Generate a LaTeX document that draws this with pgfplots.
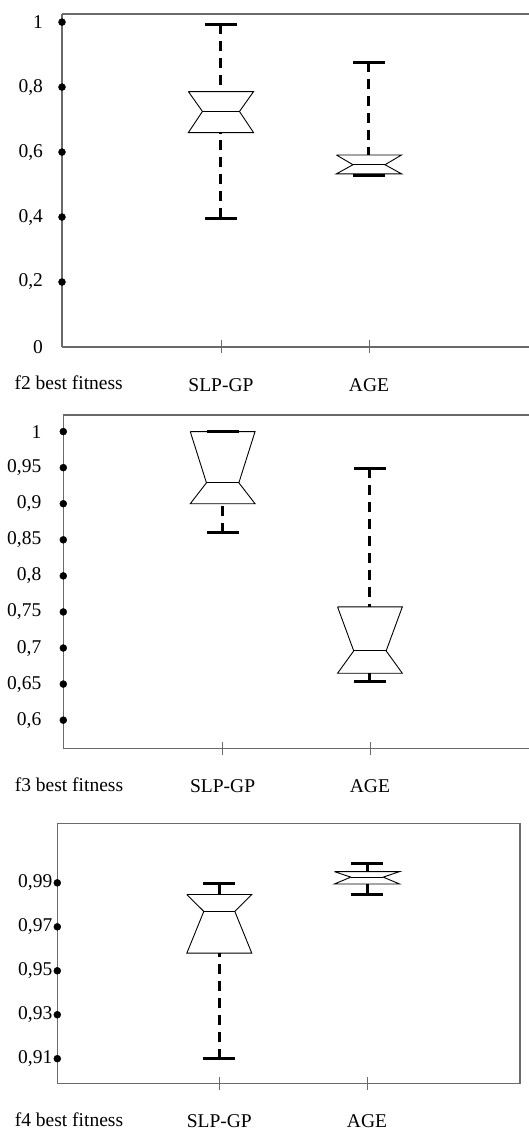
\documentclass[border=0pt]{standalone}
\usepackage{fontspec}
\setmainfont{Liberation Serif}
\usepackage{pgfplots}
\pgfplotsset{compat=1.18}
\definecolor{axgray}{HTML}{6A6A6A}
\pgfplotsset{
  myax/.style={
    scale only axis, anchor=south west, clip=false,
    axis line style={axgray, line width=1.2bp},
    xtick={1,2}, xticklabels={SLP-GP,AGE},
    tick align=center, major tick length=13bp,
    xtick style={axgray, line width=0.8bp},
    ytick style={draw=none},
    tick label style={font=\fontsize{19.5bp}{22bp}\selectfont},
    xticklabel style={anchor=base, yshift=-38bp},
    yticklabel style={anchor=east},
  },
  whisk/.style={black, line width=3bp, dash pattern=on 10bp off 7bp},
  capl/.style={black, line width=3bp},
  boxl/.style={black, line width=0.9bp},
  dots/.style={only marks, mark=*, mark size=3.5bp, black},
}
% #1 x, #2 lower whisker, #3 Q1, #4 median, #5 Q3, #6 upper whisker, #7 notch half width
\newcommand\notchbox[7]{%
  \pgfmathsetmacro\nbXL{#1-0.22}\pgfmathsetmacro\nbXR{#1+0.22}%
  \pgfmathsetmacro\nbNL{#1-#7}\pgfmathsetmacro\nbNR{#1+#7}%
  \pgfmathsetmacro\nbCL{#1-0.108}\pgfmathsetmacro\nbCR{#1+0.108}%
  \edef\nbtmp{%
    \noexpand\addplot[boxl] coordinates {(\nbXL,#5)(\nbXR,#5)(\nbNR,#4)(\nbXR,#3)(\nbXL,#3)(\nbNL,#4)(\nbXL,#5)};
    \noexpand\addplot[boxl] coordinates {(\nbNL,#4)(\nbNR,#4)};
    \noexpand\addplot[whisk] coordinates {(#1,#6)(#1,#5)};
    \noexpand\addplot[whisk] coordinates {(#1,#2)(#1,#3)};
    \noexpand\addplot[capl] coordinates {(\nbCL,#6)(\nbCR,#6)};
    \noexpand\addplot[capl] coordinates {(\nbCL,#2)(\nbCR,#2)};
  }\nbtmp}
\begin{document}
\begin{tikzpicture}
\useasboundingbox (0bp,0bp) rectangle (529bp,1128bp);
% ---- panel 1: f2
\begin{axis}[myax, at={(62bp,781bp)}, width=467bp, height=333bp,
  axis x line*=bottom, axis y line*=left,
  yticklabel style={xshift=-9bp},
  xmin=-0.074, xmax=3.081, ymin=0, ymax=1.025,
  ytick={0,0.2,0.4,0.6,0.8,1},
  yticklabels={{0\hspace{6bp}},{0,2},{0,4},{0,6},{0,8},{1\hspace{6bp}}}]
\draw[axgray, line width=1.2bp] (rel axis cs:0,1) -- (rel axis cs:1,1);
\addplot[dots] coordinates {(-0.074,0.2)(-0.074,0.4)(-0.074,0.6)(-0.074,0.8)(-0.074,1)};
\notchbox{1}{0.396}{0.660}{0.725}{0.786}{0.994}{0.125}
\notchbox{2}{0.529}{0.533}{0.561}{0.591}{0.876}{0.108}
\node[anchor=base west, font=\fontsize{19.5bp}{22bp}\selectfont, xshift=-51bp, yshift=-43bp] at (rel axis cs:0,0) {f2 best fitness};
\end{axis}
% ---- panel 2: f3
\begin{axis}[myax, at={(63.3bp,379.7bp)}, width=465.7bp, height=333.3bp,
  axis x line*=bottom, axis y line*=left,
  yticklabel style={xshift=-12bp},
  xmin=-0.082, xmax=3.080, ymin=0.561, ymax=1.023,
  ytick={0.6,0.65,0.7,0.75,0.8,0.85,0.9,0.95,1},
  yticklabels={{0,6},{0,65},{0,7},{0,75},{0,8},{0,85},{0,9},{0,95},{1\hspace{16bp}}}]
\draw[axgray, line width=1.2bp] (rel axis cs:0,1) -- (rel axis cs:1,1);
\addplot[dots] coordinates {(-0.082,0.6)(-0.082,0.65)(-0.082,0.7)(-0.082,0.75)(-0.082,0.8)(-0.082,0.85)(-0.082,0.9)(-0.082,0.95)(-0.082,1)};
\notchbox{1}{0.860}{0.900}{0.929}{1.000}{1.000}{0.110}
\notchbox{2}{0.654}{0.665}{0.696}{0.757}{0.949}{0.110}
\node[anchor=base west, font=\fontsize{19.5bp}{22bp}\selectfont, xshift=-52bp, yshift=-43bp] at (rel axis cs:0,0) {f3 best fitness};
\end{axis}
% ---- panel 3: f4
\begin{axis}[myax, at={(57.3bp,44.7bp)}, width=462.7bp, height=260bp,
  xtick pos=left, ytick pos=left,
  yticklabel style={xshift=5bp},
  xmin=-0.097, xmax=3.036, ymin=0.8988, ymax=1.0171,
  ytick={0.91,0.93,0.95,0.97,0.99},
  yticklabels={{0,91},{0,93},{0,95},{0,97},{0,99}}]
\addplot[dots] coordinates {(-0.097,0.91)(-0.097,0.93)(-0.097,0.95)(-0.097,0.97)(-0.097,0.99)};
\notchbox{1}{0.910}{0.958}{0.977}{0.9847}{0.9895}{0.105}
\notchbox{2}{0.9849}{0.9895}{0.9926}{0.9951}{0.9988}{0.110}
\node[anchor=base west, font=\fontsize{19.5bp}{22bp}\selectfont, xshift=-46bp, yshift=-43bp] at (rel axis cs:0,0) {f4 best fitness};
\end{axis}
\end{tikzpicture}
\end{document}
